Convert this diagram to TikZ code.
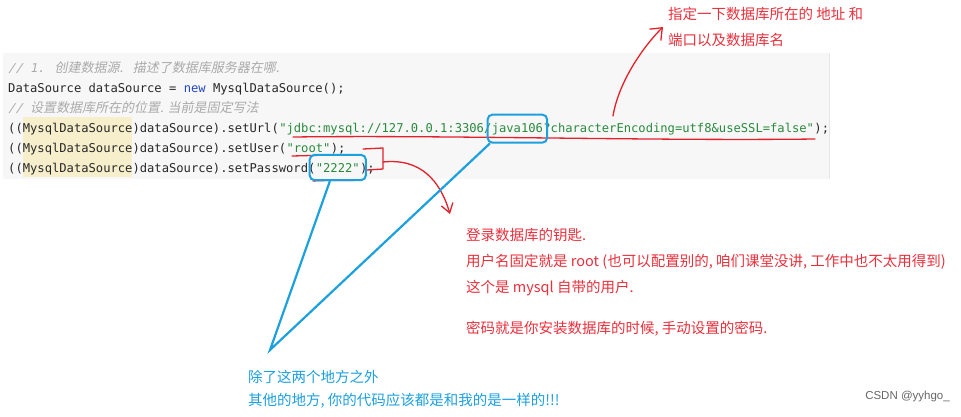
\documentclass[tikz,border=0pt]{standalone}
\usepackage{fontspec}
\usepackage{tikz}
\usetikzlibrary{positioning,fit,arrows.meta}
\setmainfont{Noto Sans CJK SC}
\setmonofont{DejaVu Sans Mono}
\newfontfamily\cjk{Noto Sans CJK SC}
\newfontfamily\cjkit[FakeSlant=0.2]{Noto Sans CJK SC}
\newfontfamily\monoit[FakeSlant=0.2]{DejaVu Sans Mono}
\newfontfamily\wmark{Liberation Sans}
\definecolor{codeBg}{RGB}{247,247,247}
\definecolor{castBg}{RGB}{247,239,204}
\definecolor{codeText}{RGB}{40,40,40}
\definecolor{codeString}{RGB}{42,138,62}
\definecolor{codeKey}{RGB}{35,70,200}
\definecolor{codeComment}{RGB}{170,170,170}
\definecolor{noteRed}{RGB}{232,48,60}
\definecolor{penRed}{RGB}{228,32,42}
\definecolor{penBlue}{RGB}{28,160,222}
\tikzset {
    style code/.style={
        anchor=base west,
        inner sep=0pt,
        font=\fontsize{12.15}{14}\ttfamily,
        text=codeText,
    },
    style string/.style={
        style code,
        text=codeString,
    },
    style comment/.style={
        style code,
        font=\fontsize{12.15}{14}\monoit,
        text=codeComment,
    },
    style box/.style={
        draw=penBlue,
        line width=2pt,
        rounded corners=5pt,
        inner xsep=4pt,
        inner ysep=8pt,
    },
    style note/.style={
        anchor=north west,
        inner sep=0pt,
        align=left,
        font=\fontsize{14.5}{26}\cjk,
        text=noteRed,
    },
    style hint/.style={
        style note,
        font=\fontsize{14.5}{23}\cjk,
        text=penBlue,
    },
    style pen/.style={
        draw=penRed,
        line width=1.3pt,
        line cap=round,
        line join=round,
    },
    style link/.style={
        draw=penBlue,
        line width=2.2pt,
        line cap=round,
    },
}
\begin{document}
\begin{tikzpicture}
[x=1pt, y=-1pt]
\useasboundingbox (0,0) rectangle (961,416);
\fill[codeBg] (3,53) rectangle (829,179);
\draw[black!10] (829,53) -- (829,179);
\fill[castBg] (22.6,117) rectangle (132.4,177);

\node[style comment] (cmtA) at (8,72) {// 1. {\fontsize{13}{14}\cjkit 创建数据源.} {\fontsize{13}{14}\cjkit 描述了数据库服务器在哪.}};
\node[style code] (newLine) at (8,92) {DataSource dataSource = \textcolor{codeKey}{new} MysqlDataSource();};
\node[style comment] (cmtB) at (8,112) {// {\fontsize{13}{14}\cjkit 设置数据库所在的位置. 当前是固定写法}};
\node[style code] (urlA) at (8,132) {((MysqlDataSource)dataSource).setUrl(};
\node[style string] (urlB) at (urlA.base east) {"jdbc:mysql://127.0.0.1:3306/};
\node[style string] (urlDb) at (urlB.base east) {java106};
\node[style string] (urlC) at (urlDb.base east) {?characterEncoding=utf8\&useSSL=false"};
\node[style code] (urlD) at (urlC.base east) {);};
\node[style code] (userA) at (8,152) {((MysqlDataSource)dataSource).setUser(};
\node[style string] (userStr) at (userA.base east) {"root"};
\node[style code] (userB) at (userStr.base east) {);};
\node[style code] (pwdA) at (8,172) {((MysqlDataSource)dataSource).setPassword(};
\node[style string] (pwdStr) at (pwdA.base east) {"2222"};
\node[style code] (pwdB) at (pwdStr.base east) {);};

\node[style note, anchor=west] (addrNote) at (668,27) {指定一下数据库所在的 地址 和\\端口以及数据库名};
\node[style note] (keyNote) at (466,228) {登录数据库的钥匙.\\用户名固定就是 root (也可以配置别的, 咱们课堂没讲, 工作中也不太用得到)\\这个是 mysql 自带的用户.\\[15pt]密码就是你安装数据库的时候, 手动设置的密码.};
\node[style hint] (otherNote) at (248,370) {除了这两个地方之外\\其他的地方, 你的代码应该都是和我的是一样的!!!};
\node[anchor=east, inner sep=0pt, font=\fontsize{11.5}{12}\wmark, text=black!60] (csdn) at (950,397) {CSDN @yyhgo\_};

% red pen marks
\draw[style pen] (293,137) .. controls (450,135) and (650,141) .. (815,139);
\draw[style pen] (292,156) -- (330,155);
\draw[style pen] (313,181) .. controls (330,180) and (345,181) .. (362,180);
\draw[style pen] (363,149) -- (383,148) -- (383,169) -- (367,170);
\coordinate (brk) at (383,162);
\coordinate (urlMark) at (613,116);
\draw[style pen, -{Straight Barb[length=9pt,width=12pt]}] (brk) .. controls (420,158) and (440,180) .. ([xshift=-16pt,yshift=14pt]keyNote.north west);
\draw[style pen, -{Straight Barb[length=10pt,width=16pt]}] (urlMark) .. controls (618,85) and (640,50) .. ([xshift=-5pt]addrNote.west);

% blue pen marks
\node[style box, fit=(urlDb)] (javabox) {};
\node[style box, fit=(pwdStr), inner xsep=6pt] (pwdbox) {};
\coordinate (meet) at (270,350);
\draw[style link] ([xshift=3pt]javabox.south west) -- (meet) -- (pwdbox.240);
\end{tikzpicture}
\end{document}
